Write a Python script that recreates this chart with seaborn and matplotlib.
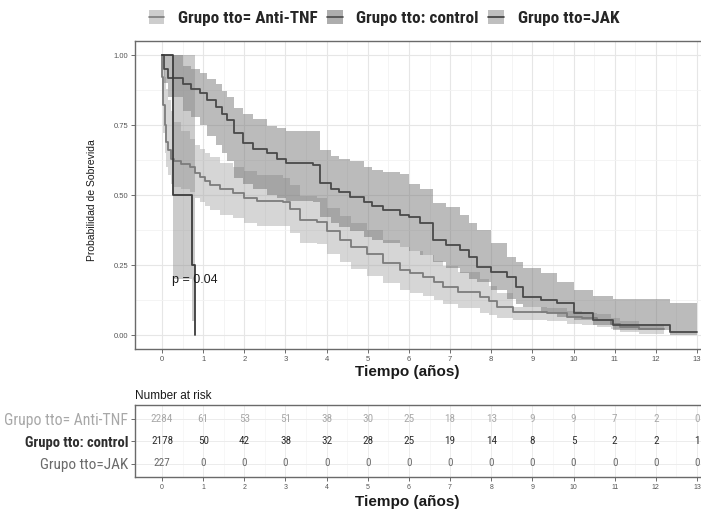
import numpy as np
import pandas as pd
import matplotlib
matplotlib.use('Agg')
import matplotlib.pyplot as plt
import seaborn as sns
from matplotlib.patches import Patch
from matplotlib.lines import Line2D

# ---------------- data ----------------
groups = ['Grupo tto= Anti-TNF', 'Grupo tto: control', 'Grupo tto=JAK']

anti_t  = [0, 0.01, 0.03, 0.06, 0.10, 0.15, 0.22, 0.30, 0.45, 0.68, 0.80, 0.92, 1.05, 1.17, 1.40, 1.73, 2.00, 2.30, 2.95, 3.10, 3.35, 3.76, 4.00, 4.33, 4.60, 4.97, 5.37, 5.78, 6.03, 6.35, 6.60, 6.84, 7.20, 7.73, 7.95, 8.13, 8.53, 9.35, 9.83, 10.20, 10.56, 10.90, 11.13, 11.60, 12.20]
anti_s  = [1.00, 0.92, 0.82, 0.75, 0.69, 0.66, 0.63, 0.62, 0.61, 0.60, 0.58, 0.565, 0.55, 0.536, 0.52, 0.506, 0.49, 0.48, 0.476, 0.45, 0.41, 0.405, 0.37, 0.34, 0.315, 0.29, 0.257, 0.232, 0.22, 0.208, 0.19, 0.173, 0.155, 0.137, 0.12, 0.101, 0.083, 0.077, 0.065, 0.06, 0.054, 0.04, 0.03, 0.02, 0.02]
anti_hi = [1.00, 0.98, 0.95, 0.92, 0.88, 0.84, 0.80, 0.76, 0.73, 0.70, 0.68, 0.665, 0.65, 0.635, 0.615, 0.60, 0.585, 0.57, 0.56, 0.535, 0.495, 0.49, 0.455, 0.425, 0.40, 0.375, 0.34, 0.315, 0.30, 0.285, 0.265, 0.245, 0.225, 0.20, 0.175, 0.15, 0.10, 0.095, 0.085, 0.08, 0.075, 0.06, 0.05, 0.04, 0.035]
anti_lo = [1.00, 0.86, 0.72, 0.65, 0.60, 0.57, 0.54, 0.53, 0.52, 0.51, 0.49, 0.475, 0.46, 0.447, 0.43, 0.417, 0.40, 0.39, 0.39, 0.365, 0.33, 0.325, 0.29, 0.26, 0.235, 0.21, 0.185, 0.16, 0.15, 0.14, 0.125, 0.11, 0.095, 0.08, 0.07, 0.06, 0.054, 0.05, 0.04, 0.035, 0.03, 0.02, 0.012, 0.005, 0.005]

ctrl_t  = [0, 0.05, 0.15, 0.52, 0.70, 0.92, 1.10, 1.32, 1.45, 1.57, 1.75, 1.97, 2.20, 2.54, 2.80, 3.02, 3.67, 3.83, 4.10, 4.30, 4.56, 4.90, 5.10, 5.37, 5.78, 6.00, 6.27, 6.59, 6.90, 7.24, 7.45, 7.65, 8.00, 8.38, 8.60, 8.78, 9.20, 9.59, 10.00, 10.48, 10.97, 12.35, 13.00]
ctrl_s  = [1.00, 0.95, 0.917, 0.895, 0.88, 0.863, 0.84, 0.815, 0.79, 0.768, 0.72, 0.685, 0.665, 0.649, 0.63, 0.613, 0.607, 0.542, 0.52, 0.51, 0.494, 0.475, 0.46, 0.446, 0.43, 0.42, 0.399, 0.339, 0.32, 0.304, 0.28, 0.244, 0.225, 0.208, 0.17, 0.137, 0.125, 0.113, 0.077, 0.054, 0.036, 0.012, 0.012]
ctrl_hi = [1.00, 1.00, 1.00, 0.96, 0.95, 0.935, 0.915, 0.895, 0.87, 0.85, 0.81, 0.79, 0.77, 0.745, 0.74, 0.73, 0.73, 0.66, 0.64, 0.63, 0.62, 0.60, 0.59, 0.583, 0.575, 0.54, 0.52, 0.47, 0.458, 0.43, 0.40, 0.375, 0.33, 0.28, 0.26, 0.24, 0.22, 0.19, 0.16, 0.14, 0.13, 0.113, 0.113]
ctrl_lo = [1.00, 0.90, 0.85, 0.80, 0.78, 0.75, 0.71, 0.68, 0.65, 0.62, 0.56, 0.54, 0.52, 0.50, 0.49, 0.48, 0.475, 0.42, 0.40, 0.385, 0.37, 0.35, 0.34, 0.33, 0.315, 0.30, 0.285, 0.26, 0.24, 0.22, 0.20, 0.19, 0.16, 0.13, 0.11, 0.10, 0.08, 0.065, 0.055, 0.035, 0.018, 0.0, 0.0]

jak_t  = [0, 0.26, 0.27, 0.72, 0.80]
jak_s  = [1.00, 0.75, 0.50, 0.25, 0.0]
jak_hi = [1.00, 1.00, 1.00, 1.00, 1.00]
jak_lo = [1.00, 0.45, 0.20, 0.05, 0.0]

risk_times = list(range(14))
risk_anti = [2284, 61, 53, 51, 38, 30, 25, 18, 13, 9, 9, 7, 2, 0]
risk_ctrl = [2178, 50, 42, 38, 32, 28, 25, 19, 14, 8, 5, 2, 2, 1]
risk_jak  = [227, 0, 0, 0, 0, 0, 0, 0, 0, 0, 0, 0, 0, 0]

p_text = 'p = 0.04'

# ---------------- style ----------------
line_cols = ['#7c7c7c', '#4a4a4a', '#3c3c3c']
fill_cols = ['#a4a4a4', '#6a6a6a', '#8c8c8c']
fill_alpha = [0.45, 0.45, 0.45]
label_cols = ['#a8a8a8', '#2e2e2e', '#6a6a6a']
narrow = ['Roboto Condensed', 'Liberation Sans Narrow', 'Liberation Sans', 'DejaVu Sans']

sns.set_theme(style='whitegrid')
plt.rcParams['font.family'] = ['Liberation Sans', 'DejaVu Sans']

W, H = 701, 509
fig = plt.figure(figsize=(W / 100, H / 100), dpi=100)

xl = (-0.65, 13.65)
px0, px1 = 135.3, 723.7
ax = fig.add_axes([px0 / W, 1 - 349 / H, (px1 - px0) / W, (349 - 41) / H])
axr = fig.add_axes([px0 / W, 1 - 477 / H, (px1 - px0) / W, (477 - 405) / H])

series = [
    (anti_t, anti_s, anti_lo, anti_hi),
    (ctrl_t, ctrl_s, ctrl_lo, ctrl_hi),
    (jak_t, jak_s, jak_lo, jak_hi),
]

for i, (t, s, lo, hi) in enumerate(series):
    ax.fill_between(t, lo, hi, step='post', color=fill_cols[i], alpha=fill_alpha[i], lw=0, zorder=2)
for i, (t, s, lo, hi) in enumerate(series):
    df = pd.DataFrame({'t': t, 's': s})
    sns.lineplot(data=df, x='t', y='s', ax=ax, estimator=None, sort=False,
                 drawstyle='steps-post', color=line_cols[i], lw=1.3, zorder=3)

ax.set_xlim(*xl)
ax.set_ylim(-0.05, 1.05)
ax.set_xticks(range(14))
ax.set_xticks(np.arange(0.5, 13.6, 1), minor=True)
ax.set_yticks([0, 0.25, 0.5, 0.75, 1.0])
ax.set_yticks([0.125, 0.375, 0.625, 0.875], minor=True)
ax.set_yticklabels(['0.00', '0.25', '0.50', '0.75', '1.00'])
ax.grid(which='major', color='#e6e6e6', lw=0.8)
ax.grid(which='minor', color='#f2f2f2', lw=0.6)
ax.tick_params(axis='both', which='major', labelsize=5.5, labelcolor='#555555',
               length=3, width=0.6, color='#555555', pad=2, bottom=True, left=True)
ax.tick_params(which='minor', length=0)
for sp in ax.spines.values():
    sp.set_color('#6a6a6a')
    sp.set_linewidth(1.0)
ax.set_xlabel('Tiempo (años)', fontsize=11, fontweight='bold', color='#1a1a1a', labelpad=0)
ax.xaxis.set_label_coords((407 - px0) / (px1 - px0), -0.052)
ax.set_ylabel('Probabilidad de Sobrevida', fontsize=7.5, color='#1a1a1a')
ax.yaxis.set_label_coords((97 - px0) / (px1 - px0), (349 - 200) / 308)
ax.text(0.24, 0.196, p_text, fontsize=9, va='center', ha='left', color='#1a1a1a', zorder=5)

# legend
handles = []
for i in range(3):
    handles.append((Patch(facecolor=fill_cols[i], alpha=0.55, edgecolor='none'),
                    Line2D([0], [0], color=line_cols[i], lw=1.2)))
fig.legend(handles, groups, loc='center', mode='expand',
           bbox_to_anchor=(149 / W, 1 - 30 / H, (619 - 149) / W, 24 / H), ncol=3,
           frameon=False, handlelength=0.9, handleheight=0.9, columnspacing=1.0, handletextpad=0.8,
           borderaxespad=0, borderpad=0,
           prop={'family': narrow, 'weight': 'bold', 'size': 12.3})

# risk table
risk_rows = [risk_anti, risk_ctrl, risk_jak]
for r, vals in enumerate(risk_rows):
    for tt, v in zip(risk_times, vals):
        axr.text(tt, r + 1, str(v), ha='center', va='center', fontsize=8,
                 color=label_cols[r], family=narrow)
axr.set_xlim(*xl)
axr.set_ylim(3.6, 0.4)
axr.set_xticks(range(14))
axr.set_xticks(np.arange(0.5, 13.6, 1), minor=True)
axr.set_yticks([1, 2, 3])
axr.set_yticklabels(groups)
for lab, c, wgt, sz in zip(axr.get_yticklabels(), label_cols, ['normal', 'bold', 'normal'], [11.3, 10.5, 11]):
    lab.set_color(c)
    lab.set_fontfamily(narrow)
    lab.set_fontsize(sz)
    lab.set_fontweight(wgt)
axr.grid(which='major', color='#ececec', lw=0.7)
axr.grid(which='minor', color='#f4f4f4', lw=0.5)
axr.tick_params(axis='x', which='major', labelsize=5, labelcolor='#555555',
                length=3, width=0.6, color='#555555', pad=2, bottom=True)
axr.tick_params(axis='y', which='major', length=3, width=0.6, color='#555555', pad=2, left=True)
axr.tick_params(which='minor', length=0)
for sp in axr.spines.values():
    sp.set_color('#6a6a6a')
    sp.set_linewidth(1.0)
axr.set_xlabel('Tiempo (años)', fontsize=11, fontweight='bold', color='#1a1a1a', labelpad=0)
axr.xaxis.set_label_coords((407 - px0) / (px1 - px0), -0.25)
axr.set_title('Number at risk', loc='left', fontsize=8.5, color='#1a1a1a', pad=4)

fig.savefig('out.png', dpi=100, facecolor='white')
